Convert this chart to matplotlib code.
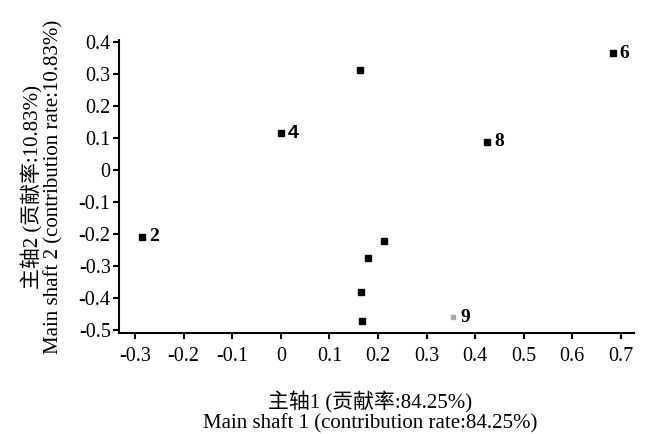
import numpy as np
import matplotlib.pyplot as plt

plt.rcParams['font.family'] = ['Liberation Serif', 'Noto Sans CJK SC']
plt.rcParams['axes.unicode_minus'] = False

# principal component scores
pc1 = [0.164, 0.001, 0.683, 0.425, -0.286, 0.212, 0.180, 0.166, 0.168, 0.355]
pc2 = [0.310, 0.114, 0.364, 0.088, -0.210, -0.222, -0.277, -0.381, -0.474, -0.461]
names = ['', '4', '6', '8', '2', '', '', '', '', '9']

xticks = [-0.3, -0.2, -0.1, 0, 0.1, 0.2, 0.3, 0.4, 0.5, 0.6, 0.7]
xtick_labels = ['-0.3', '-0.2', '-0.1', '0', '0.1', '0.2', '0.3', '0.4', '0.5', '0.6', '0.7']
yticks = [0.4, 0.3, 0.2, 0.1, 0, -0.1, -0.2, -0.3, -0.4, -0.5]
ytick_labels = ['0.4', '0.3', '0.2', '0.1', '0', '-0.1', '-0.2', '-0.3', '-0.4', '-0.5']

fig = plt.figure(figsize=(6.49, 4.34), dpi=100)
ax = fig.add_axes([0.1834, 0.2327, 0.7935, 0.6751])

for x, y, n in zip(pc1, pc2, names):
    c = '#aaaaaa' if n == '9' else 'black'
    ms = 3 if n == '9' else 4.5
    ax.plot(x, y, marker='s', ms=ms, color=c, ls='none')
    if n:
        fam = ['Liberation Sans'] if n == '4' else ['Liberation Serif']
        ax.annotate(n, (x, y), xytext=(5, 0), textcoords='offset points',
                    va='center', ha='left', fontsize=14, fontweight='bold',
                    family=fam)

ax.set_xlim(-0.333, 0.727)
ax.set_ylim(-0.51, 0.405)
ax.set_xticks(xticks)
ax.set_xticklabels(xtick_labels)
ax.set_yticks(yticks)
ax.set_yticklabels(ytick_labels)

for s in ['top', 'right']:
    ax.spines[s].set_visible(False)
for s in ['left', 'bottom']:
    ax.spines[s].set_linewidth(1.5)
ax.tick_params(direction='out', length=4, width=1.5, labelsize=14.5, pad=2)
ax.tick_params(axis='x', pad=6)

ax.set_xlabel('主轴1 (贡献率:84.25%)\nMain shaft 1 (contribution rate:84.25%)',
              fontsize=15, linespacing=1.0)
ax.xaxis.set_label_coords(0.487, -0.2)
ax.set_ylabel('主轴2 (贡献率:10.83%)\nMain shaft 2 (contribution rate:10.83%)',
              fontsize=15, linespacing=1.05)
ax.yaxis.set_label_coords(-0.108, 0.5)

fig.savefig('out.png', dpi=100)
